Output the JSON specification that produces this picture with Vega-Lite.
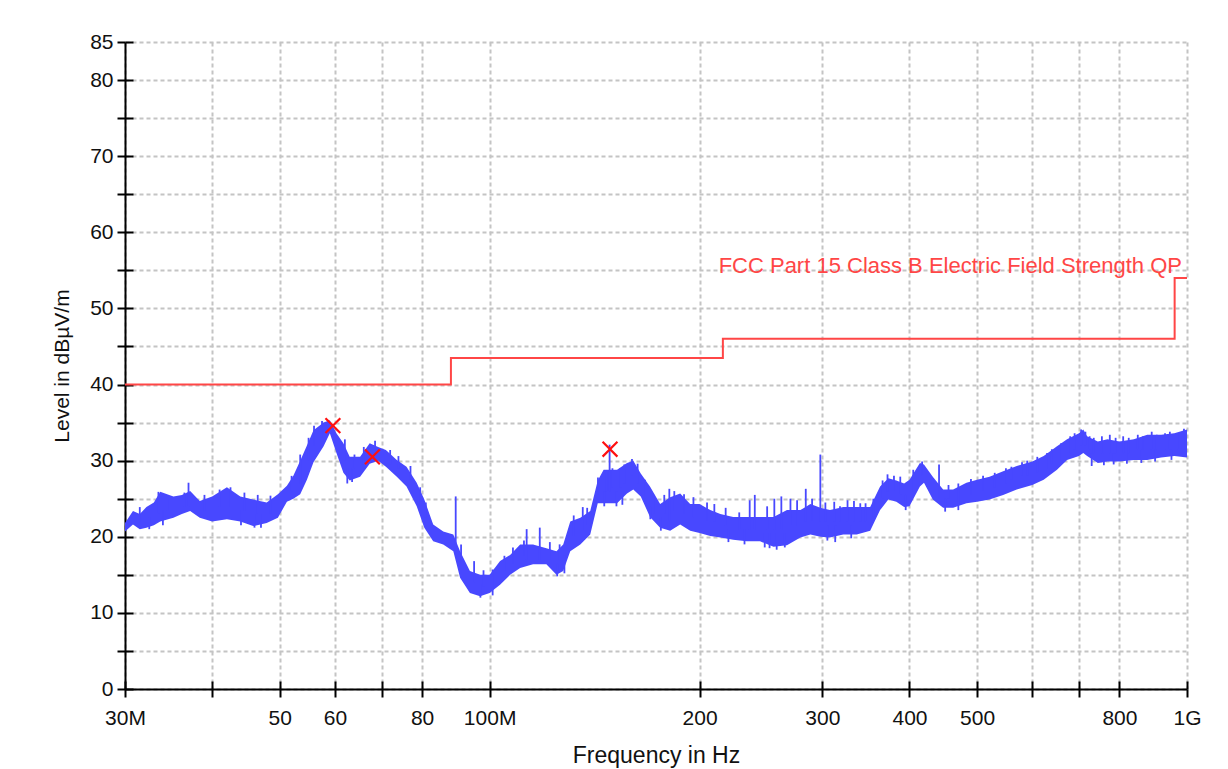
{
  "$schema": "https://vega.github.io/schema/vega-lite/v6.json",
  "width": 1062,
  "height": 647,
  "autosize": "none",
  "padding": {"left": 125, "top": 42, "right": 41, "bottom": 80},
  "background": "white",
  "config": {
    "view": {"stroke": null},
    "font": "Liberation Sans",
    "axis": {
      "labelFont": "Liberation Sans",
      "titleFont": "Liberation Sans",
      "labelColor": "#111111",
      "titleColor": "#111111",
      "titleFontWeight": "normal"
    }
  },
  "datasets": {
    "limit": [
      {"f": 30, "limit": 40},
      {"f": 88, "limit": 43.5},
      {"f": 216, "limit": 46},
      {"f": 960, "limit": 54},
      {"f": 1000, "limit": 54}
    ],
    "trace": [
      {"f": 30, "lo": 20.7, "hi": 21.8},
      {"f": 30.8, "lo": 21.6, "hi": 23.4},
      {"f": 31.5, "lo": 21.0, "hi": 23.0},
      {"f": 32.2, "lo": 21.2, "hi": 23.9},
      {"f": 33.0, "lo": 21.5, "hi": 24.5},
      {"f": 33.7, "lo": 22.0, "hi": 25.9},
      {"f": 35.2, "lo": 22.5, "hi": 25.3},
      {"f": 36.2, "lo": 23.0, "hi": 25.5},
      {"f": 37.2, "lo": 23.4, "hi": 26.0},
      {"f": 38.4, "lo": 22.5, "hi": 24.7},
      {"f": 40, "lo": 22.0, "hi": 25.3},
      {"f": 42, "lo": 22.3, "hi": 26.5},
      {"f": 43.9, "lo": 22.0, "hi": 25.3},
      {"f": 45.8, "lo": 21.4, "hi": 24.9},
      {"f": 47.9, "lo": 21.8, "hi": 24.5},
      {"f": 49.7, "lo": 22.5, "hi": 25.6},
      {"f": 51.2, "lo": 24.6, "hi": 26.7},
      {"f": 52.3, "lo": 25.0, "hi": 28.0},
      {"f": 53.5, "lo": 25.6, "hi": 30.0},
      {"f": 54.7, "lo": 27.5, "hi": 32.0},
      {"f": 55.9, "lo": 29.8, "hi": 34.0},
      {"f": 57.8, "lo": 31.9, "hi": 35.0},
      {"f": 59.0, "lo": 33.6, "hi": 35.3},
      {"f": 60.3, "lo": 31.0, "hi": 33.6},
      {"f": 61.7, "lo": 28.4, "hi": 32.3},
      {"f": 63.0, "lo": 27.4, "hi": 30.5},
      {"f": 65.2, "lo": 27.9, "hi": 30.5},
      {"f": 67.3, "lo": 29.6, "hi": 32.3},
      {"f": 69.2, "lo": 30.0, "hi": 31.8},
      {"f": 71.0, "lo": 29.2, "hi": 31.4},
      {"f": 73.6, "lo": 27.9, "hi": 30.1},
      {"f": 76.0, "lo": 26.6, "hi": 29.2},
      {"f": 78.6, "lo": 24.0, "hi": 27.1},
      {"f": 80.6, "lo": 21.2, "hi": 24.9},
      {"f": 83.0, "lo": 19.4, "hi": 21.6},
      {"f": 85.8, "lo": 19.0, "hi": 20.7},
      {"f": 88.7, "lo": 18.1, "hi": 20.3},
      {"f": 90.7, "lo": 14.6, "hi": 18.1},
      {"f": 93.7, "lo": 12.6, "hi": 15.5},
      {"f": 96.9, "lo": 12.2, "hi": 15.0},
      {"f": 100, "lo": 12.6, "hi": 15.0},
      {"f": 103.5, "lo": 13.7, "hi": 16.8},
      {"f": 107, "lo": 15.0, "hi": 17.6},
      {"f": 110.6, "lo": 15.9, "hi": 19.0},
      {"f": 115.4, "lo": 16.4, "hi": 19.0},
      {"f": 120.6, "lo": 16.4, "hi": 18.5},
      {"f": 124.7, "lo": 15.0, "hi": 18.1},
      {"f": 127.5, "lo": 15.5, "hi": 19.0},
      {"f": 130.5, "lo": 18.1, "hi": 22.0},
      {"f": 134.9, "lo": 19.0, "hi": 22.5},
      {"f": 139.4, "lo": 20.3, "hi": 23.4},
      {"f": 142.9, "lo": 24.4, "hi": 27.4},
      {"f": 145.7, "lo": 24.4, "hi": 28.8},
      {"f": 152.3, "lo": 24.4, "hi": 28.8},
      {"f": 157.4, "lo": 25.7, "hi": 29.7},
      {"f": 160.7, "lo": 26.2, "hi": 30.0},
      {"f": 164.7, "lo": 25.3, "hi": 28.3},
      {"f": 169.8, "lo": 22.6, "hi": 26.6},
      {"f": 175.6, "lo": 21.2, "hi": 24.3},
      {"f": 181.5, "lo": 20.8, "hi": 25.2},
      {"f": 187.6, "lo": 21.6, "hi": 25.7},
      {"f": 193.9, "lo": 20.8, "hi": 24.3},
      {"f": 200, "lo": 20.5, "hi": 24.3},
      {"f": 207.2, "lo": 20.1, "hi": 23.5},
      {"f": 214.2, "lo": 19.9, "hi": 23.0},
      {"f": 223.5, "lo": 19.6, "hi": 22.6},
      {"f": 233.6, "lo": 19.4, "hi": 22.6},
      {"f": 244.2, "lo": 19.4, "hi": 22.6},
      {"f": 255.3, "lo": 18.7, "hi": 22.6},
      {"f": 266.9, "lo": 18.9, "hi": 23.5},
      {"f": 279, "lo": 19.9, "hi": 23.5},
      {"f": 288.4, "lo": 20.3, "hi": 24.3},
      {"f": 298, "lo": 20.0, "hi": 23.8},
      {"f": 307.6, "lo": 19.9, "hi": 23.5},
      {"f": 321.4, "lo": 20.3, "hi": 23.9},
      {"f": 336, "lo": 20.3, "hi": 23.9},
      {"f": 351.3, "lo": 20.8, "hi": 23.9},
      {"f": 363, "lo": 23.5, "hi": 26.6},
      {"f": 373, "lo": 24.9, "hi": 27.7},
      {"f": 383, "lo": 24.6, "hi": 27.4},
      {"f": 393, "lo": 23.9, "hi": 27.0},
      {"f": 400, "lo": 24.0, "hi": 27.5},
      {"f": 414, "lo": 26.6, "hi": 29.7},
      {"f": 419.6, "lo": 27.1, "hi": 29.5},
      {"f": 432, "lo": 24.9, "hi": 27.9},
      {"f": 447, "lo": 23.8, "hi": 26.2},
      {"f": 462, "lo": 23.8, "hi": 26.2},
      {"f": 482.8, "lo": 24.4, "hi": 27.1},
      {"f": 500, "lo": 24.6, "hi": 27.5},
      {"f": 521, "lo": 24.9, "hi": 27.9},
      {"f": 545, "lo": 25.5, "hi": 28.6},
      {"f": 570, "lo": 26.2, "hi": 29.3},
      {"f": 600, "lo": 26.8, "hi": 29.9},
      {"f": 623, "lo": 27.5, "hi": 30.6},
      {"f": 651, "lo": 28.8, "hi": 31.9},
      {"f": 673, "lo": 30.1, "hi": 32.8},
      {"f": 700, "lo": 30.6, "hi": 33.6},
      {"f": 710, "lo": 31.0, "hi": 34.1},
      {"f": 719, "lo": 30.6, "hi": 33.2},
      {"f": 745, "lo": 29.7, "hi": 32.5},
      {"f": 769, "lo": 29.9, "hi": 32.8},
      {"f": 800, "lo": 29.9, "hi": 32.5},
      {"f": 839, "lo": 30.1, "hi": 32.8},
      {"f": 877, "lo": 30.1, "hi": 33.4},
      {"f": 918, "lo": 30.4, "hi": 33.4},
      {"f": 959, "lo": 30.6, "hi": 33.6},
      {"f": 1000, "lo": 30.4, "hi": 34.1}
    ],
    "spikes": [
      {"f": 31.5, "lo": 22.0, "hi": 23.9},
      {"f": 32.5, "lo": 21.0, "hi": 22.5},
      {"f": 33.5, "lo": 23.0, "hi": 25.9},
      {"f": 34.0, "lo": 21.5, "hi": 23.5},
      {"f": 34.5, "lo": 23.5, "hi": 25.0},
      {"f": 36.5, "lo": 24.0, "hi": 25.8},
      {"f": 37.0, "lo": 24.0, "hi": 27.1},
      {"f": 39.0, "lo": 23.5, "hi": 25.5},
      {"f": 41.0, "lo": 24.0, "hi": 26.2},
      {"f": 42.5, "lo": 24.0, "hi": 26.5},
      {"f": 44.0, "lo": 21.5, "hi": 23.5},
      {"f": 44.5, "lo": 23.5, "hi": 25.8},
      {"f": 46.0, "lo": 21.2, "hi": 23.0},
      {"f": 46.5, "lo": 23.0, "hi": 25.5},
      {"f": 47.0, "lo": 21.2, "hi": 23.0},
      {"f": 48.5, "lo": 23.0, "hi": 25.4},
      {"f": 52.0, "lo": 26.0, "hi": 28.0},
      {"f": 53.5, "lo": 27.0, "hi": 30.8},
      {"f": 55.0, "lo": 30.0, "hi": 33.0},
      {"f": 56.0, "lo": 32.0, "hi": 34.6},
      {"f": 57.5, "lo": 33.0, "hi": 35.2},
      {"f": 62.0, "lo": 30.0, "hi": 32.8},
      {"f": 62.5, "lo": 27.0, "hi": 29.0},
      {"f": 63.5, "lo": 27.2, "hi": 29.0},
      {"f": 64.0, "lo": 29.0, "hi": 30.8},
      {"f": 66.0, "lo": 29.5, "hi": 31.8},
      {"f": 68.5, "lo": 31.0, "hi": 32.6},
      {"f": 72.0, "lo": 29.5, "hi": 31.4},
      {"f": 74.0, "lo": 29.0, "hi": 30.6},
      {"f": 77.0, "lo": 27.5, "hi": 29.3},
      {"f": 79.5, "lo": 24.0, "hi": 26.5},
      {"f": 81.0, "lo": 22.5, "hi": 24.5},
      {"f": 89.4, "lo": 19.0, "hi": 25.3},
      {"f": 91.0, "lo": 16.5, "hi": 19.0},
      {"f": 95.0, "lo": 14.0, "hi": 16.8},
      {"f": 97.0, "lo": 12.0, "hi": 13.8},
      {"f": 98.0, "lo": 13.5, "hi": 15.6},
      {"f": 101.0, "lo": 12.3, "hi": 15.7},
      {"f": 105.0, "lo": 15.5, "hi": 17.5},
      {"f": 108.0, "lo": 16.5, "hi": 18.6},
      {"f": 112.0, "lo": 17.5, "hi": 19.5},
      {"f": 113.0, "lo": 17.0, "hi": 21.0},
      {"f": 118.0, "lo": 17.0, "hi": 21.2},
      {"f": 122.0, "lo": 17.0, "hi": 19.3},
      {"f": 125.0, "lo": 14.8, "hi": 16.5},
      {"f": 126.0, "lo": 17.0, "hi": 19.0},
      {"f": 128.0, "lo": 15.2, "hi": 17.5},
      {"f": 132.0, "lo": 20.0, "hi": 22.8},
      {"f": 136.0, "lo": 21.0, "hi": 23.9},
      {"f": 138.0, "lo": 21.5, "hi": 23.8},
      {"f": 143.0, "lo": 25.5, "hi": 27.8},
      {"f": 146.0, "lo": 24.0, "hi": 26.0},
      {"f": 147.0, "lo": 26.0, "hi": 28.5},
      {"f": 148.6, "lo": 26.0, "hi": 32.1},
      {"f": 150.0, "lo": 26.5, "hi": 29.0},
      {"f": 152.0, "lo": 24.0, "hi": 26.0},
      {"f": 154.0, "lo": 26.5, "hi": 29.0},
      {"f": 155.0, "lo": 24.2, "hi": 26.0},
      {"f": 156.0, "lo": 27.0, "hi": 29.5},
      {"f": 160.0, "lo": 28.0, "hi": 30.2},
      {"f": 163.0, "lo": 27.0, "hi": 29.6},
      {"f": 167.0, "lo": 25.0, "hi": 27.5},
      {"f": 170.0, "lo": 22.3, "hi": 24.0},
      {"f": 172.0, "lo": 23.0, "hi": 25.5},
      {"f": 176.0, "lo": 20.8, "hi": 22.5},
      {"f": 178.0, "lo": 23.0, "hi": 25.5},
      {"f": 181.0, "lo": 22.0, "hi": 26.3},
      {"f": 184.0, "lo": 23.5, "hi": 26.0},
      {"f": 190.0, "lo": 23.0, "hi": 25.6},
      {"f": 196.0, "lo": 22.5, "hi": 25.2},
      {"f": 205.0, "lo": 22.0, "hi": 24.5},
      {"f": 210.0, "lo": 22.0, "hi": 24.3},
      {"f": 218.0, "lo": 21.5, "hi": 23.8},
      {"f": 220.0, "lo": 19.3, "hi": 21.0},
      {"f": 228.0, "lo": 21.0, "hi": 23.2},
      {"f": 232.0, "lo": 19.0, "hi": 21.0},
      {"f": 236.0, "lo": 21.0, "hi": 24.8},
      {"f": 240.0, "lo": 21.0, "hi": 25.5},
      {"f": 248.0, "lo": 18.6, "hi": 20.5},
      {"f": 250.0, "lo": 21.0, "hi": 24.0},
      {"f": 252.0, "lo": 18.5, "hi": 20.5},
      {"f": 256.0, "lo": 21.0, "hi": 25.0},
      {"f": 258.0, "lo": 18.3, "hi": 20.5},
      {"f": 262.0, "lo": 21.0, "hi": 25.3},
      {"f": 265.0, "lo": 18.6, "hi": 20.5},
      {"f": 270.0, "lo": 21.5, "hi": 25.0},
      {"f": 276.0, "lo": 21.5, "hi": 24.8},
      {"f": 284.0, "lo": 22.0, "hi": 26.3},
      {"f": 290.0, "lo": 22.0, "hi": 25.0},
      {"f": 298.0, "lo": 22.0, "hi": 30.8},
      {"f": 303.0, "lo": 22.0, "hi": 24.5},
      {"f": 305.0, "lo": 19.5, "hi": 21.5},
      {"f": 312.0, "lo": 22.0, "hi": 24.6},
      {"f": 313.0, "lo": 19.3, "hi": 21.5},
      {"f": 318.0, "lo": 22.0, "hi": 24.0},
      {"f": 326.0, "lo": 22.0, "hi": 24.8},
      {"f": 330.0, "lo": 19.8, "hi": 21.5},
      {"f": 333.0, "lo": 22.0, "hi": 24.7},
      {"f": 340.0, "lo": 22.0, "hi": 24.4},
      {"f": 346.0, "lo": 22.0, "hi": 24.4},
      {"f": 355.0, "lo": 22.5, "hi": 25.0},
      {"f": 366.0, "lo": 25.0, "hi": 27.4},
      {"f": 372.0, "lo": 26.0, "hi": 28.2},
      {"f": 380.0, "lo": 26.0, "hi": 28.0},
      {"f": 388.0, "lo": 25.5, "hi": 27.9},
      {"f": 395.0, "lo": 23.5, "hi": 25.5},
      {"f": 405.0, "lo": 26.0, "hi": 28.8},
      {"f": 417.0, "lo": 28.0, "hi": 29.9},
      {"f": 441.0, "lo": 25.0, "hi": 29.5},
      {"f": 450.0, "lo": 23.3, "hi": 25.0},
      {"f": 455.0, "lo": 25.0, "hi": 26.8},
      {"f": 470.0, "lo": 23.5, "hi": 27.0},
      {"f": 490.0, "lo": 25.5, "hi": 27.6},
      {"f": 510.0, "lo": 26.0, "hi": 28.0},
      {"f": 530.0, "lo": 26.5, "hi": 28.4},
      {"f": 550.0, "lo": 27.0, "hi": 29.0},
      {"f": 560.0, "lo": 27.5, "hi": 29.2},
      {"f": 580.0, "lo": 28.0, "hi": 29.8},
      {"f": 590.0, "lo": 28.0, "hi": 30.0},
      {"f": 610.0, "lo": 28.5, "hi": 30.5},
      {"f": 630.0, "lo": 29.0, "hi": 31.0},
      {"f": 640.0, "lo": 29.5, "hi": 31.5},
      {"f": 660.0, "lo": 30.0, "hi": 32.3},
      {"f": 680.0, "lo": 31.0, "hi": 33.2},
      {"f": 690.0, "lo": 31.5, "hi": 33.6},
      {"f": 705.0, "lo": 32.0, "hi": 34.1},
      {"f": 715.0, "lo": 32.0, "hi": 33.8},
      {"f": 725.0, "lo": 31.5, "hi": 33.2},
      {"f": 730.0, "lo": 29.3, "hi": 31.0},
      {"f": 735.0, "lo": 31.0, "hi": 33.0},
      {"f": 755.0, "lo": 31.0, "hi": 33.2},
      {"f": 760.0, "lo": 29.4, "hi": 31.0},
      {"f": 775.0, "lo": 31.0, "hi": 33.4},
      {"f": 785.0, "lo": 29.5, "hi": 31.0},
      {"f": 790.0, "lo": 31.0, "hi": 33.0},
      {"f": 810.0, "lo": 31.0, "hi": 33.2},
      {"f": 820.0, "lo": 29.6, "hi": 31.0},
      {"f": 825.0, "lo": 31.0, "hi": 33.0},
      {"f": 850.0, "lo": 31.5, "hi": 33.4},
      {"f": 860.0, "lo": 29.7, "hi": 31.5},
      {"f": 865.0, "lo": 31.5, "hi": 33.2},
      {"f": 890.0, "lo": 31.5, "hi": 33.8},
      {"f": 900.0, "lo": 29.9, "hi": 31.5},
      {"f": 905.0, "lo": 31.5, "hi": 33.4},
      {"f": 930.0, "lo": 31.5, "hi": 33.6},
      {"f": 945.0, "lo": 31.5, "hi": 33.8},
      {"f": 950.0, "lo": 30.1, "hi": 31.5},
      {"f": 970.0, "lo": 31.5, "hi": 33.6},
      {"f": 990.0, "lo": 31.5, "hi": 34.2}
    ],
    "markers": [
      {"f": 59.6, "level": 34.6},
      {"f": 67.9, "level": 30.5},
      {"f": 148.8, "level": 31.5}
    ],
    "labels": [
      {"f": 1000, "limit": 54, "text": "FCC Part 15 Class B Electric Field Strength QP"}
    ]
  },
  "resolve": {"axis": {"x": "independent", "y": "independent"}},
  "layer": [
    {
      "data": {"name": "limit"},
      "mark": {"type": "line", "interpolate": "step-after", "color": "#ff4646", "strokeWidth": 2},
      "encoding": {
        "x": {
          "field": "f", "type": "quantitative",
          "scale": {"type": "log", "domain": [30, 1000], "nice": false},
          "axis": {
            "orient": "bottom",
            "title": "Frequency in Hz",
            "titleFontSize": 23,
            "titleY": 66,
            "titleBaseline": "middle",
            "values": [30, 40, 50, 60, 70, 80, 100, 200, 300, 400, 500, 600, 700, 800, 1000],
            "labelExpr": "datum.value == 30 ? '30M' : datum.value == 100 ? '100M' : datum.value == 1000 ? '1G' : (datum.value == 40 || datum.value == 70 || datum.value == 600 || datum.value == 700) ? '' : format(datum.value, 'd')",
            "labelFontSize": 21,
            "labelPadding": 10,
            "labelOverlap": false,
            "labelFlush": false,
            "tickSize": 8,
            "tickWidth": 2,
            "tickColor": "#000000",
            "domainColor": "#000000",
            "domainWidth": 2,
            "grid": true,
            "gridColor": "#c4c4c4",
            "gridWidth": 2,
            "gridDash": [4, 3]
          }
        },
        "y": {
          "field": "limit", "type": "quantitative",
          "scale": {"domain": [0, 85], "nice": false, "zero": false},
          "axis": {
            "orient": "left",
            "title": "Level in dBµV/m",
            "titleFontSize": 21,
            "titleX": -63,
            "titleBaseline": "middle",
            "values": [0, 5, 10, 15, 20, 25, 30, 35, 40, 45, 50, 55, 60, 65, 70, 75, 80, 85],
            "labelExpr": "(datum.value % 10 == 0 || datum.value == 85) ? format(datum.value, 'd') : ''",
            "labelFontSize": 21,
            "labelPadding": 4,
            "tickSize": 8,
            "tickWidth": 2,
            "tickColor": "#000000",
            "domainColor": "#000000",
            "domainWidth": 2,
            "grid": true,
            "gridColor": "#c4c4c4",
            "gridWidth": 2,
            "gridDash": [4, 3]
          }
        }
      }
    },
    {
      "data": {"name": "trace"},
      "mark": {"type": "area", "color": "#4848ff", "opacity": 1},
      "encoding": {
        "x": {
          "field": "f", "type": "quantitative",
          "axis": {"orient": "bottom", "title": null, "labels": false, "domain": false, "grid": false,
                   "values": [30, 40, 50, 60, 70, 80, 100, 200, 300, 400, 500, 600, 700, 800, 1000],
                   "tickSize": -8, "tickWidth": 2, "tickColor": "#000000"}
        },
        "y": {
          "field": "lo", "type": "quantitative",
          "axis": {"orient": "left", "title": null, "labels": false, "domain": false, "grid": false,
                   "values": [0, 5, 10, 15, 20, 25, 30, 35, 40, 45, 50, 55, 60, 65, 70, 75, 80, 85],
                   "tickSize": -8, "tickWidth": 2, "tickColor": "#000000"}
        },
        "y2": {"field": "hi"}
      }
    },
    {
      "data": {"name": "spikes"},
      "mark": {"type": "rule", "color": "#4848ff", "strokeWidth": 1.8},
      "encoding": {
        "x": {"field": "f", "type": "quantitative", "axis": null},
        "y": {"field": "lo", "type": "quantitative", "axis": null},
        "y2": {"field": "hi"}
      }
    },
    {
      "data": {"name": "markers"},
      "mark": {"type": "point", "shape": "M-1,-1L1,1M1,-1L-1,1", "size": 220, "filled": false, "stroke": "#ff1010", "strokeWidth": 2.2, "opacity": 1},
      "encoding": {
        "x": {"field": "f", "type": "quantitative", "axis": null},
        "y": {"field": "level", "type": "quantitative", "axis": null}
      }
    },
    {
      "data": {"name": "labels"},
      "mark": {"type": "text", "align": "right", "baseline": "alphabetic", "dx": -5, "dy": -5, "fontSize": 22, "font": "Liberation Sans", "color": "#ff4646"},
      "encoding": {
        "x": {"field": "f", "type": "quantitative", "axis": null},
        "y": {"field": "limit", "type": "quantitative", "axis": null},
        "text": {"field": "text"}
      }
    }
  ]
}
